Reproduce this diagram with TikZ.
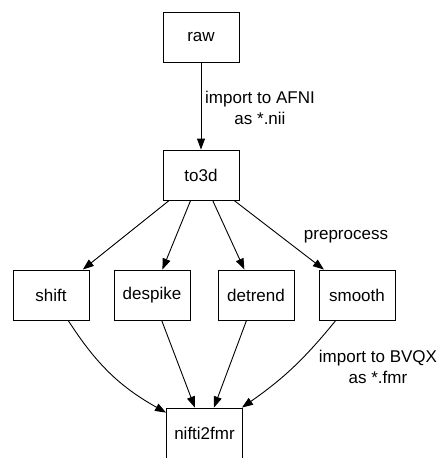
\documentclass[tikz,border=0pt]{standalone}
\usepackage{fontspec}
\setmainfont{Liberation Sans}
\usetikzlibrary{arrows.meta}
\tikzset{
  stagebox/.style={draw, line width=0.9pt, minimum width=76pt, minimum height=50pt, inner sep=2pt},
  flow/.style={-{Triangle[length=11pt,width=8pt]}, line width=0.9pt},
  lbl/.style={align=center, inner sep=0pt}
}
\begin{document}
\begin{tikzpicture}[x=1pt, y=-1pt, font=\fontsize{17}{21}\selectfont]
\useasboundingbox (0,0) rectangle (437,458);
\node [stagebox] (raw) at (201,37) {raw};
\node [stagebox] (to3d) at (201,175) {to3d};
\node [stagebox] (shift) at (51,295) {shift};
\node [stagebox] (despike) at (152,295) {despike};
\node [stagebox] (detrend) at (256,295) {detrend};
\node [stagebox] (smooth) at (357,295) {smooth};
\node [stagebox] (nifti) at (204.5,433) {nifti2fmr};
\node [lbl] (afni) at (260,108) {import to AFNI\\as *.nii};
\node [lbl] (prep) at (346,237) {preprocess};
\node [lbl] (bvqx) at (378,367) {import to BVQX\\as *.fmr};
\draw [flow] (raw) -- (to3d);
\draw [flow] (to3d) -- (shift);
\draw [flow] (to3d) -- (despike);
\draw [flow] (to3d) -- (detrend);
\draw [flow] (to3d) -- (smooth);
\draw [flow] (shift) to [bend right=14] (nifti);
\draw [flow] (despike) -- (nifti);
\draw [flow] (detrend) -- (nifti);
\draw [flow] (smooth) to [bend left=8] (nifti);
\end{tikzpicture}
\end{document}
